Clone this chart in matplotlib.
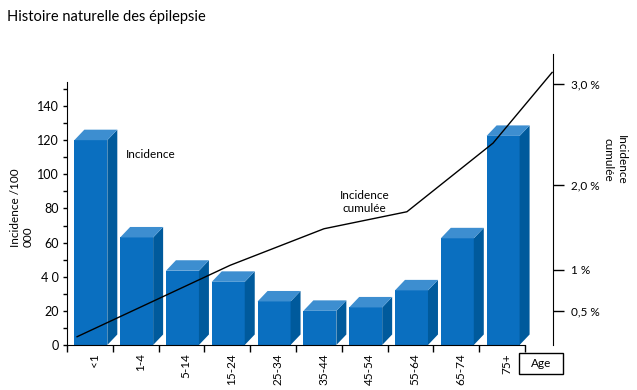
import numpy as np
import matplotlib
matplotlib.use("Agg")
import matplotlib.pyplot as plt
from matplotlib.patches import Polygon, Rectangle

plt.rcParams['font.family'] = ['Lato', 'DejaVu Sans']

# --- data ---
age_groups = ['<1', '1-4', '5-14', '15-24', '25-34', '35-44', '45-54', '55-64', '65-74', '75+']
incidence = [120, 63, 43.5, 37, 25.5, 20, 22, 32, 62.5, 122.5]   # per 100 000

# cumulated incidence (%)
cum_x = [-0.28, 3.06, 5.11, 6.92, 8.80, 10.09]
cum_pct = [0.12, 1.05, 1.48, 1.68, 2.41, 3.11]

left_ticks = [0, 20, 40, 60, 80, 100, 120, 140]
left_labels = ['0', '20', '4 0', '60', '80', '100', '120', '140']
right_ticks = [0.5, 1, 2, 3]
right_labels = ['0,5 %', '1 %', '2,0 %', '3,0 %']

# the right axis of the original is not linear: anchor points of its scale
scale_pct = [0, 0.5, 1, 2, 3, 4]
scale_pos = [0, 20.2, 44.2, 94.0, 153.2, 212.4]

FRONT = '#0A6FC0'
SIDE = '#005A9C'
TOP = '#3D8ED0'
FS = 8.5

fig = plt.figure(figsize=(6.37, 3.90), dpi=100)
ax = fig.add_axes([0.1052, 0.1154, 0.7630, 0.7462])

x = np.arange(len(age_groups))
w = 0.72
dx, dy = 0.218, 6.15
ymax = 170.5

ax.bar(x + 0.02, incidence, width=w, color=FRONT, zorder=2)
for xi, h in zip(x + 0.02, incidence):
    r = xi + w / 2
    l = xi - w / 2
    ax.add_patch(Polygon([(r, 0), (r + dx, dy), (r + dx, h + dy), (r, h)],
                         closed=True, facecolor=SIDE, edgecolor='none', zorder=2))
    ax.add_patch(Polygon([(l, h), (r, h), (r + dx, h + dy), (l + dx, h + dy)],
                         closed=True, facecolor=TOP, edgecolor='none', zorder=2))

ax.set_xlim(-0.5, 10.11)
ax.set_ylim(0, ymax)

# left axis
ax.spines['top'].set_visible(False)
ax.spines['right'].set_visible(False)
ax.spines['left'].set_bounds(0, 154)
ax.spines['bottom'].set_bounds(-0.5, 9.5)
ax.set_yticks(left_ticks)
ax.set_yticklabels(left_labels, fontsize=FS + 0.5)
ax.set_yticks(np.arange(10, 160, 10), minor=True)
ax.tick_params(axis='y', which='both', length=3, width=1, pad=3)

# x axis: ticks on the category boundaries, labels rotated
ax.set_xticks(np.arange(-0.5, 10, 1))
ax.set_xticklabels([])
ax.tick_params(axis='x', which='major', length=5, width=1)
ax.set_xticks(x + 0.1, minor=True)
ax.set_xticklabels(age_groups, minor=True, rotation=90, fontsize=FS)
ax.tick_params(axis='x', which='minor', length=0, pad=6)

fig.text(0.0345, 0.467, 'Incidence /100\n000', rotation=90, fontsize=FS,
         ha='center', va='center', multialignment='left')

# right axis (cumulated incidence)
ax2 = ax.twinx()
fwd = lambda v: np.interp(v, scale_pct, scale_pos)
inv = lambda v: np.interp(v, scale_pos, scale_pct)
ax2.set_yscale('function', functions=(fwd, inv))
ax2.set_ylim(0, inv(ymax))
ax2.plot(cum_x, cum_pct, color='black', lw=1, zorder=3)
ax2.set_yticks(right_ticks)
ax2.set_yticklabels(right_labels, fontsize=FS)
ax2.yaxis.set_minor_locator(matplotlib.ticker.NullLocator())
ax2.tick_params(axis='y', length=8, width=1, pad=5)
for s in ['top', 'left', 'bottom']:
    ax2.spines[s].set_visible(False)

fig.text(0.965, 0.59, 'Incidence\ncumulée', rotation=-90, fontsize=FS,
         ha='center', va='center', multialignment='center')

# annotations
ax.text(0.78, 111.5, 'Incidence', fontsize=FS, ha='left', va='center', zorder=4)
ax.text(6.0, 84, 'Incidence\ncumulée', fontsize=FS, ha='center', va='center', zorder=4)

# "Age" box
fig.patches.append(Rectangle((0.815, 0.041), 0.069, 0.054, transform=fig.transFigure,
                             facecolor='white', edgecolor='black', lw=1))
fig.text(0.8495, 0.068, 'Age', fontsize=FS, ha='center', va='center')

fig.text(0.011, 0.956, 'Histoire naturelle des épilepsie', fontsize=10.5, ha='left', va='center')

fig.savefig('out.png', dpi=100)
